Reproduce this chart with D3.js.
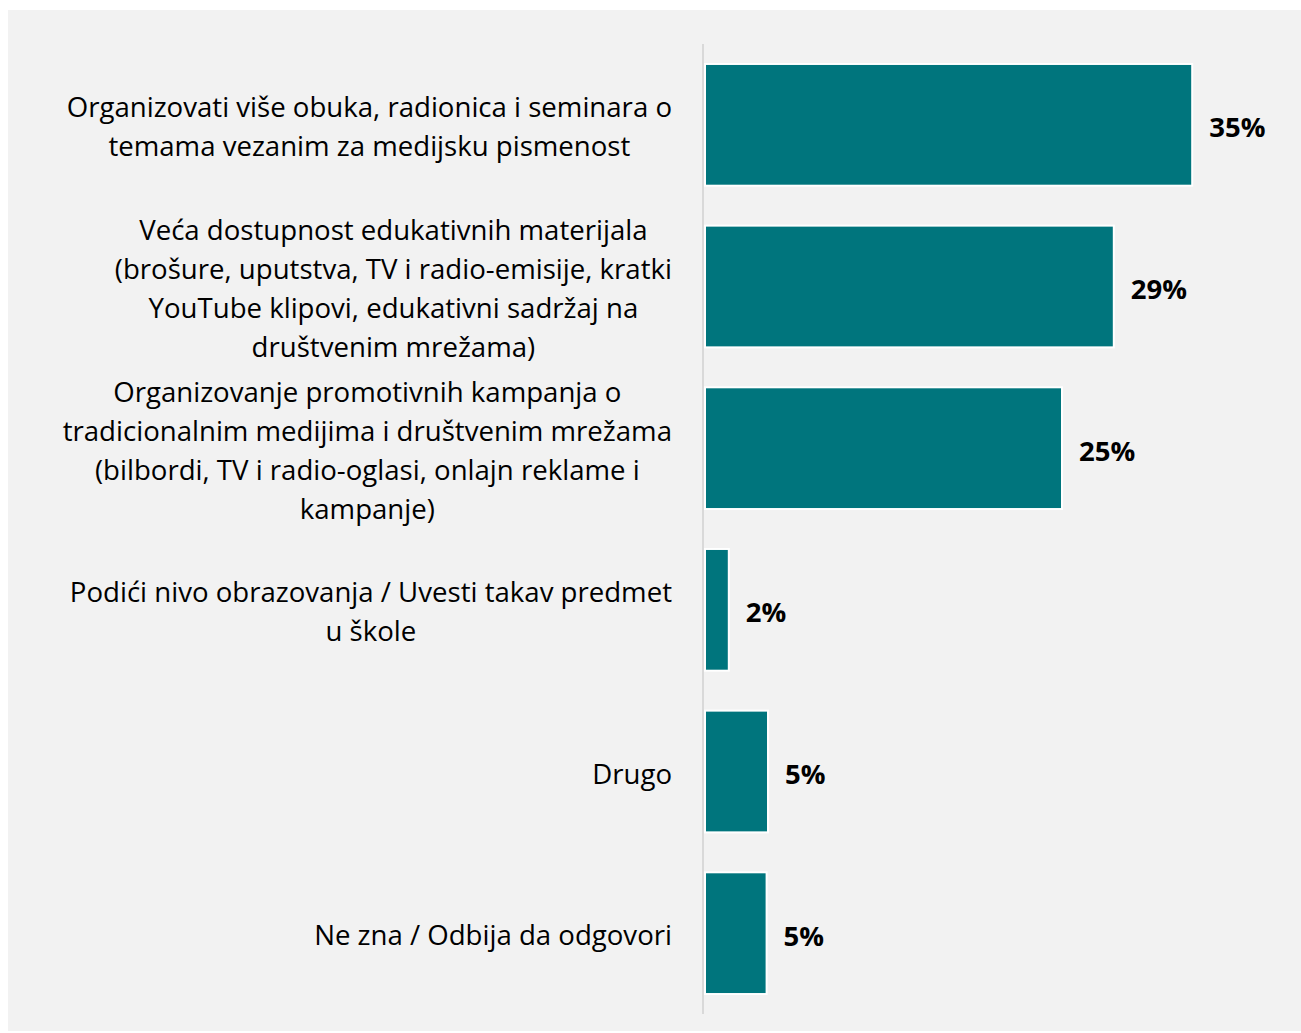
<!DOCTYPE html>
<html>
<head>
<meta charset="utf-8">
<script src="https://cdn.jsdelivr.net/npm/d3@7"></script>
<style>
  html, body { margin: 0; padding: 0; background: #ffffff; }
  svg { display: block; }
</style>
</head>
<body>
<svg id="chart" width="1301" height="1033"></svg>
<script>
const categories = [
  "Organizovati više obuka, radionica i seminara o\ntemama vezanim za medijsku pismenost",
  "Veća dostupnost edukativnih materijala\n(brošure, uputstva, TV i radio-emisije, kratki\nYouTube klipovi, edukativni sadržaj na\ndruštvenim mrežama)",
  "Organizovanje promotivnih kampanja o\ntradicionalnim medijima i društvenim mrežama\n(bilbordi, TV i radio-oglasi, onlajn reklame i\nkampanje)",
  "Podići nivo obrazovanja / Uvesti takav predmet\nu škole",
  "Drugo",
  "Ne zna / Odbija da odgovori"
];
const values = [34.8, 29.2, 25.5, 1.7, 4.5, 4.4];
const valueLabels = ["35%", "29%", "25%", "2%", "5%", "5%"];

const svg = d3.select("#chart");
const W = 1301, H = 1033;

svg.append("rect").attr("x", 8).attr("y", 10).attr("width", W - 8).attr("height", 1021).attr("fill", "#f2f2f2");

const x = d3.scaleLinear().domain([0, 40]).range([705, 1265]);
const y = d3.scaleBand().domain(d3.range(categories.length)).range([44, 1014]).paddingInner(0.247).paddingOuter(0.1235);

const fontFamily = "'Open Sans', 'Noto Sans', sans-serif";

// bars
svg.append("g").selectAll("rect").data(values).join("rect")
  .attr("x", x(0))
  .attr("y", (d, i) => y(i))
  .attr("width", d => x(d) - x(0))
  .attr("height", y.bandwidth())
  .attr("fill", "#00757d")
  .attr("stroke", "#ffffff")
  .attr("stroke-width", 2);

// axis line
svg.append("line").attr("x1", 703).attr("x2", 703).attr("y1", 44).attr("y2", 1014)
  .attr("stroke", "#d9d9d9").attr("stroke-width", 2);

// category labels
const labelRight = 672;
const lineH = 39;
const lg = svg.append("g").attr("font-family", fontFamily).attr("font-size", 27.6).attr("fill", "#000");
categories.forEach((c, i) => {
  const lines = c.split("\n");
  const cy = y(i) + y.bandwidth() / 2 + 1;
  const t = lg.append("text").attr("text-anchor", "middle").attr("dominant-baseline", "central");
  const tspans = lines.map((l, k) => t.append("tspan")
    .attr("y", cy + (k - (lines.length - 1) / 2) * lineH)
    .text(l));
  const maxW = d3.max(tspans, s => s.node().getComputedTextLength());
  tspans.forEach(s => s.attr("x", labelRight - maxW / 2));
});

// value labels
svg.append("g").selectAll("text").data(values).join("text")
  .attr("x", d => x(d) + 17)
  .attr("y", (d, i) => y(i) + y.bandwidth() / 2 + 2)
  .attr("dominant-baseline", "central")
  .attr("font-family", fontFamily)
  .attr("font-weight", "bold")
  .attr("font-size", 27.5)
  .attr("fill", "#000")
  .text((d, i) => valueLabels[i]);
</script>
</body>
</html>
